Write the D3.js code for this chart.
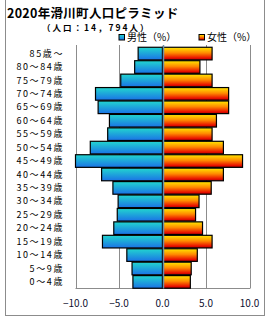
<!DOCTYPE html>
<html>
<head>
<meta charset="utf-8">
<script src="https://cdn.jsdelivr.net/npm/d3@7"></script>
<style>
  body { margin: 0; background: #fff; }
  svg { display: block; font-family: "Noto Sans CJK JP", sans-serif; }
</style>
</head>
<body>
<svg width="270" height="320"></svg>
<script>
// age groups, top to bottom
const ages = ["85歳～", "80～84歳", "75～79歳", "70～74歳", "65～69歳", "60～64歳",
  "55～59歳", "50～54歳", "45～49歳", "40～44歳", "35～39歳", "30～34歳",
  "25～29歳", "20～24歳", "15～19歳", "10～14歳", "5～9歳", "0～4歳"];
// percentages
const male = [2.8, 3.2, 4.8, 7.7, 7.4, 6.1, 6.3, 8.3, 10.0, 7.0, 5.7, 5.1, 5.2, 5.6, 6.9, 4.1, 3.5, 3.4];
const female = [5.7, 4.3, 5.7, 7.6, 7.6, 6.2, 5.7, 7.0, 9.2, 7.0, 5.6, 4.2, 3.8, 4.6, 5.7, 4.0, 3.3, 3.2];
const ticks = [-10, -5, 0, 5, 10];

const svg = d3.select("svg");

// outer frame
svg.append("rect")
  .attr("x", 5.5).attr("y", -1)
  .attr("width", 259).attr("height", 316.5)
  .attr("fill", "none").attr("stroke", "#8c8c8c");

const defs = svg.append("defs");
const gm = defs.append("linearGradient").attr("id", "gMale")
  .attr("x1", 0).attr("y1", 0).attr("x2", 0).attr("y2", 1);
gm.append("stop").attr("offset", "0%").attr("stop-color", "#22d6cf");
gm.append("stop").attr("offset", "100%").attr("stop-color", "#1a72e6");
const gf = defs.append("linearGradient").attr("id", "gFemale")
  .attr("x1", 0).attr("y1", 0).attr("x2", 0).attr("y2", 1);
gf.append("stop").attr("offset", "0%").attr("stop-color", "#ffe800");
gf.append("stop").attr("offset", "45%").attr("stop-color", "#ff8a00");
gf.append("stop").attr("offset", "85%").attr("stop-color", "#e81000");
gf.append("stop").attr("offset", "100%").attr("stop-color", "#b00000");

const pLeft = 75.5, pRight = 249.5, pTop = 45, pBottom = 288.5;

const x = d3.scaleLinear().domain([-10, 10]).range([pLeft, pRight]);
const y = d3.scaleBand().domain(ages).range([pTop + 2, pBottom]).paddingInner(0.06).paddingOuter(0.02);

// grid lines
svg.append("g").selectAll("line")
  .data(ticks)
  .join("line")
  .attr("x1", d => Math.round(x(d)) + 0.5).attr("x2", d => Math.round(x(d)) + 0.5)
  .attr("y1", pTop).attr("y2", pBottom)
  .attr("stroke", "#8c8c8c");
svg.append("line")
  .attr("x1", pLeft).attr("x2", pRight + 0.5)
  .attr("y1", pBottom).attr("y2", pBottom)
  .attr("stroke", "#8c8c8c");

// bars
svg.append("g").selectAll("rect")
  .data(male)
  .join("rect")
  .attr("x", d => x(-d))
  .attr("y", (d, i) => y(ages[i]))
  .attr("width", d => x(0) - x(-d))
  .attr("height", y.bandwidth())
  .attr("fill", "url(#gMale)")
  .attr("stroke", "#000").attr("stroke-width", 1.2);

svg.append("g").selectAll("rect")
  .data(female)
  .join("rect")
  .attr("x", x(0))
  .attr("y", (d, i) => y(ages[i]))
  .attr("width", d => x(d) - x(0))
  .attr("height", y.bandwidth())
  .attr("fill", "url(#gFemale)")
  .attr("stroke", "#000").attr("stroke-width", 1.2);

// zero line on top
svg.append("line")
  .attr("x1", Math.round(x(0)) + 0.5).attr("x2", Math.round(x(0)) + 0.5)
  .attr("y1", pTop).attr("y2", pBottom)
  .attr("stroke", "#6a8fa8").attr("stroke-width", 1.5);

// age labels
svg.append("g").selectAll("text")
  .data(ages)
  .join("text")
  .attr("x", 64)
  .attr("y", d => y(d) + y.bandwidth() / 2)
  .attr("dy", "0.35em")
  .attr("text-anchor", "end")
  .attr("font-size", 9)
  .attr("letter-spacing", 1.6)
  .attr("fill", "#000")
  .text(d => d);

// x tick labels
svg.append("g").selectAll("text")
  .data(ticks)
  .join("text")
  .attr("x", d => x(d))
  .attr("y", 307)
  .attr("text-anchor", "middle")
  .attr("font-size", 10)
  .attr("fill", "#101030")
  .text(d => d3.format(".1f")(d).replace("-", "−"));

// title
svg.append("text")
  .attr("x", 7).attr("y", 17.5)
  .attr("font-size", 12.5).attr("font-weight", "bold")
  .attr("letter-spacing", 0.3)
  .text("2020年滑川町人口ピラミッド");
svg.append("text")
  .attr("x", 42).attr("y", 31)
  .attr("font-size", 8.5).attr("font-weight", "bold")
  .attr("letter-spacing", 2)
  .text("（人口：14，794人）");

// legend
const legend = [
  { label: "男性（%）", fill: "url(#gMale)", x: 119 },
  { label: "女性（%）", fill: "url(#gFemale)", x: 199 }
];
const lg = svg.append("g").selectAll("g")
  .data(legend)
  .join("g")
  .attr("transform", d => `translate(${d.x},34.5)`);
lg.append("rect")
  .attr("width", 5.5).attr("height", 5.5)
  .attr("fill", d => d.fill)
  .attr("stroke", "#000");
lg.append("text")
  .attr("x", 8).attr("y", 6.5)
  .attr("font-size", 10)
  .text(d => d.label);
</script>
</body>
</html>
